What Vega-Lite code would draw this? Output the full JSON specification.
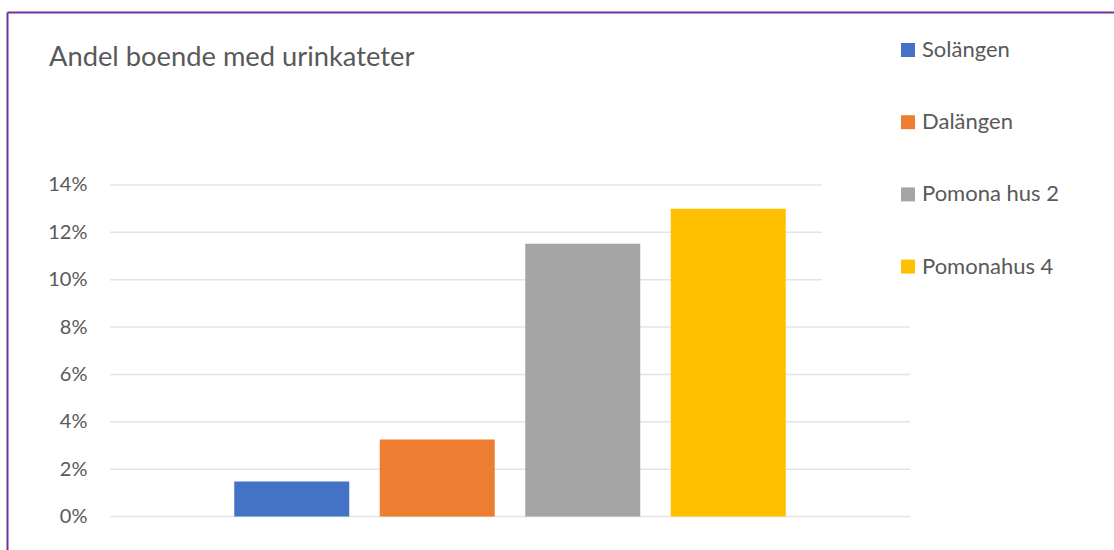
{
  "$schema": "https://vega.github.io/schema/vega-lite/v6.json",
  "width": 1107,
  "height": 538,
  "autosize": {"type": "none"},
  "padding": {"left": 7, "top": 12, "right": 0, "bottom": 0},
  "background": "white",
  "title": {
    "text": "Andel boende med urinkateter",
    "anchor": "start",
    "frame": "group",
    "orient": "top",
    "font": "Lato",
    "fontSize": 27.3,
    "fontWeight": "normal",
    "color": "#595959",
    "baseline": "alphabetic",
    "offset": 0,
    "dx": 42,
    "dy": 81
  },
  "datasets": {
    "bars": [
      {"grupp": "Andel", "serie": "Solängen", "v": 0.0148},
      {"grupp": "Andel", "serie": "Dalängen", "v": 0.0325},
      {"grupp": "Andel", "serie": "Pomona hus 2", "v": 0.1152},
      {"grupp": "Andel", "serie": "Pomonahus 4", "v": 0.13}
    ],
    "grid": [
      {"grupp": "Andel", "v": 0},
      {"grupp": "Andel", "v": 0.02},
      {"grupp": "Andel", "v": 0.04},
      {"grupp": "Andel", "v": 0.06},
      {"grupp": "Andel", "v": 0.08},
      {"grupp": "Andel", "v": 0.1},
      {"grupp": "Andel", "v": 0.12},
      {"grupp": "Andel", "v": 0.14}
    ]
  },
  "encoding": {
    "x": {
      "field": "grupp",
      "type": "nominal",
      "scale": {"paddingInner": 0, "paddingOuter": 0.19188, "align": 0.3355},
      "axis": {
        "orient": "top",
        "title": null,
        "labels": false,
        "ticks": false,
        "domain": true,
        "domainColor": "#7030A0",
        "domainWidth": 2
      }
    },
    "y": {
      "field": "v",
      "type": "quantitative",
      "scale": {"domain": [-0.01415, 0.21306], "nice": false, "zero": false},
      "axis": {
        "title": null,
        "values": [0, 0.02, 0.04, 0.06, 0.08, 0.1, 0.12, 0.14],
        "format": ".0%",
        "grid": false,
        "ticks": false,
        "domain": true,
        "domainColor": "#7030A0",
        "domainWidth": 2,
        "labelPadding": -80,
        "labelFont": "Lato",
        "labelFontSize": 20,
        "labelColor": "#595959"
      }
    }
  },
  "layer": [
    {
      "data": {"name": "grid"},
      "mark": {"type": "tick", "orient": "horizontal", "size": 800, "thickness": 1.5, "color": "#d9d9d9"}
    },
    {
      "data": {"name": "bars"},
      "mark": {"type": "bar"},
      "encoding": {
        "xOffset": {
          "field": "serie",
          "type": "nominal",
          "sort": ["Solängen", "Dalängen", "Pomona hus 2", "Pomonahus 4"],
          "scale": {"paddingInner": 0.2096, "paddingOuter": 0.854}
        },
        "color": {
          "field": "serie",
          "type": "nominal",
          "scale": {
            "domain": ["Solängen", "Dalängen", "Pomona hus 2", "Pomonahus 4"],
            "range": ["#4472C4", "#ED7D31", "#A5A5A5", "#FFC000"]
          },
          "legend": {
            "title": " ",
            "titleOrient": "left",
            "titleFontSize": 1,
            "titlePadding": 67,
            "orient": "none",
            "legendX": 815,
            "legendY": 19,
            "padding": 8,
            "fillColor": "white",
            "symbolType": "square",
            "symbolSize": 196,
            "symbolStrokeWidth": 0,
            "symbolOpacity": 1,
            "labelFont": "Lato",
            "labelFontSize": 22,
            "labelColor": "#595959",
            "labelOffset": 3,
            "rowPadding": 50.2
          }
        }
      }
    }
  ],
  "config": {
    "view": {"stroke": null}
  }
}
